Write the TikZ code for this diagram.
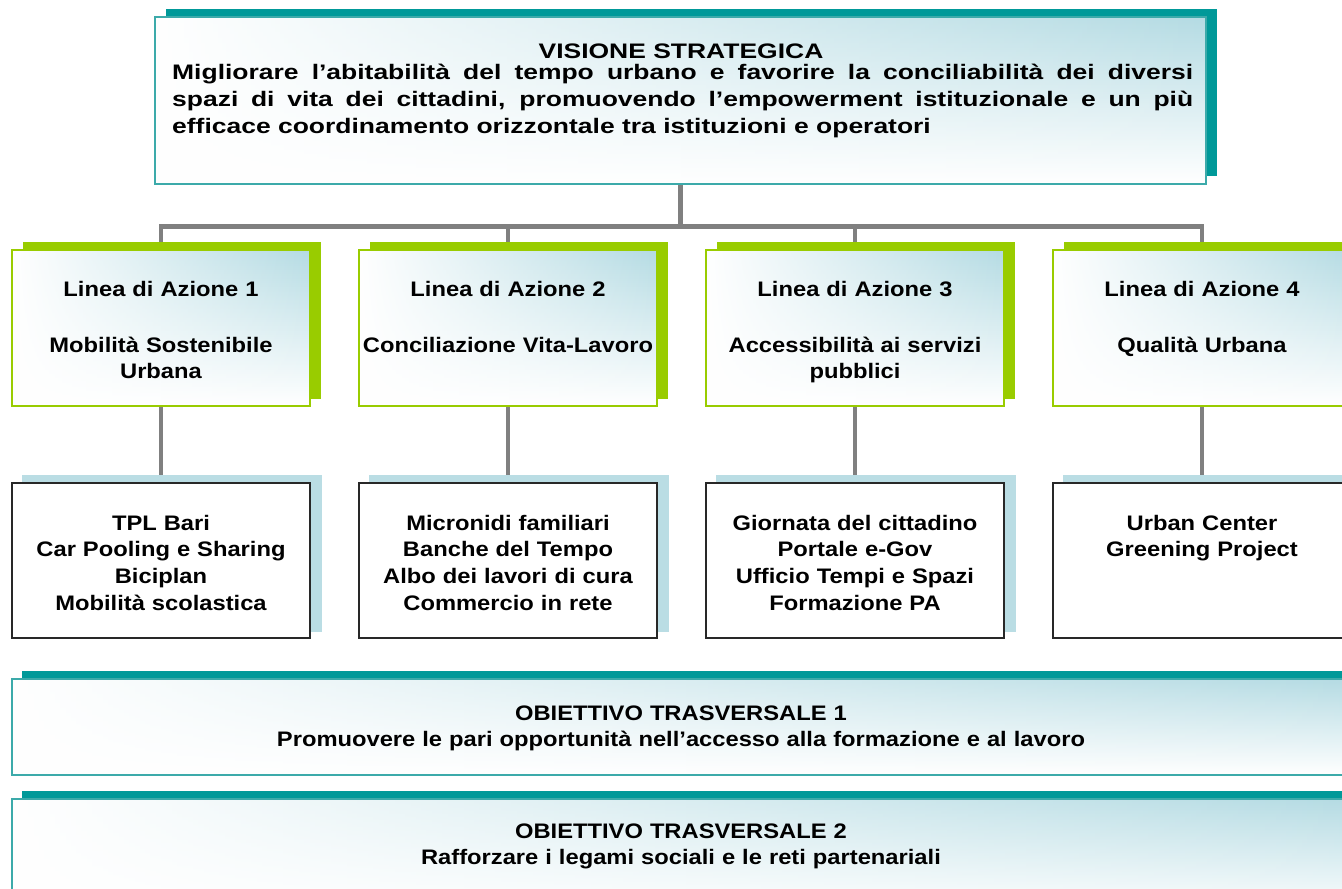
\documentclass[tikz,border=0pt]{standalone}
\usepackage{fontspec}
\setmainfont{Liberation Sans}[FakeStretch=1.13]
\newfontfamily\topfont{Liberation Sans}[FakeStretch=1.26,Ligatures=TeX]
\usetikzlibrary{fadings,calc}
\definecolor{teal1}{RGB}{0,153,153}
\definecolor{tealb}{RGB}{60,170,170}
\definecolor{green1}{RGB}{153,204,0}
\definecolor{conng}{RGB}{128,128,128}
\definecolor{lbshad}{RGB}{186,221,228}
\definecolor{lbgrad}{RGB}{180,219,227}
\definecolor{dkborder}{RGB}{40,40,40}
\tikzfading[name=fadeleft, left color=transparent!0, right color=transparent!100]
\pgfdeclarelayer{connlayer}
\pgfdeclarelayer{shadlayer}
\pgfsetlayers{connlayer,shadlayer,main}
\begin{document}
\begin{tikzpicture}[x=1pt,y=-1pt,
  fadebox/.style={rectangle, inner sep=0pt, top color=lbgrad, bottom color=white,
    postaction={fill=white, path fading=fadeleft},
    postaction={draw=#1, line width=1.6pt}},
  whitebox/.style={rectangle, inner sep=0pt, fill=white, draw=dkborder, line width=2pt},
  linbox/.style={fadebox=green1, minimum width=298pt, minimum height=156pt},
  probox/.style={whitebox, minimum width=298pt, minimum height=155pt},
  objbox/.style={fadebox=tealb, minimum width=1348pt, minimum height=#1},
  tx/.style={inner sep=0pt, text width=296pt, align=center, anchor=base,
    font=\fontsize{21}{26.8}\selectfont\bfseries},
  conn/.style={draw=conng, line width=4.8pt, line join=miter},
]
\useasboundingbox (0,0) rectangle (1342,889);

% --- top box
\node[fadebox=tealb, minimum width=1051pt, minimum height=167pt] (vis) at (680.5,100.5) {};
\node[inner sep=0pt, anchor=base, font=\topfont\fontsize{21}{27}\selectfont\bfseries] (vtitle) at (681,58) {VISIONE STRATEGICA};
\node[inner sep=0pt, anchor=base west, text width=1021pt, align=justify,
  font=\topfont\fontsize{21}{27}\selectfont\bfseries] (vbody) at (172,79)
  {Migliorare l’abitabilità del tempo urbano e favorire la conciliabilità dei diversi\linebreak
   spazi di vita dei cittadini, promuovendo l’empowerment istituzionale e un più\linebreak
   efficace coordinamento orizzontale tra istituzioni e operatori};

% --- action lines
\node[linbox] (l1) at (161,328) {};
\node[linbox] (l2) at (508,328) {};
\node[linbox] (l3) at (855,328) {};
\node[linbox] (l4) at (1202,328) {};
\node[tx] (l1a) at (161,296) {Linea di Azione 1};
\node[tx] (l2a) at (508,296) {Linea di Azione 2};
\node[tx] (l3a) at (855,296) {Linea di Azione 3};
\node[tx] (l4a) at (1202,296) {Linea di Azione 4};
\node[tx] (l1b) at (161,352) {Mobilità Sostenibile\\Urbana};
\node[tx] (l2b) at (508,352) {Conciliazione Vita-Lavoro};
\node[tx] (l3b) at (855,352) {Accessibilità ai servizi\\pubblici};
\node[tx] (l4b) at (1202,352) {Qualità Urbana};

% --- projects
\node[probox] (p1) at (161,560.5) {};
\node[probox] (p2) at (508,560.5) {};
\node[probox] (p3) at (855,560.5) {};
\node[probox] (p4) at (1202,560.5) {};
\node[tx] (p1t) at (161,530) {TPL Bari\\Car Pooling e Sharing\\Biciplan\\Mobilità scolastica};
\node[tx] (p2t) at (508,530) {Micronidi familiari\\Banche del Tempo\\Albo dei lavori di cura\\Commercio in rete};
\node[tx] (p3t) at (855,530) {Giornata del cittadino\\Portale e-Gov\\Ufficio Tempi e Spazi\\Formazione PA};
\node[tx] (p4t) at (1202,530) {Urban Center\\Greening Project};

% --- transversal objectives
\node[objbox=96pt] (o1) at (686,727) {};
\node[objbox=116pt] (o2) at (686,857) {};
\node[tx, text width=1200pt] (o1t) at (681,720) {OBIETTIVO TRASVERSALE 1\\Promuovere le pari opportunità nell’accesso alla formazione e al lavoro};
\node[tx, text width=1200pt] (o2t) at (681,838) {OBIETTIVO TRASVERSALE 2\\Rafforzare i legami sociali e le reti partenariali};

% --- shadows
\begin{pgfonlayer}{shadlayer}
  \fill[teal1] ($(vis.south west)+(11,-8)$) rectangle ($(vis.north east)+(11,-8)$);
  \foreach \n in {l1,l2,l3,l4}
    \fill[green1] ($(\n.south west)+(11,-7.5)$) rectangle ($(\n.north east)+(11,-7.5)$);
  \foreach \n in {p1,p2,p3,p4}
    \fill[lbshad] ($(\n.south west)+(11,-7.5)$) rectangle ($(\n.north east)+(11,-7.5)$);
  \fill[teal1] ($(o1.south west)+(10,-8)$) rectangle ($(o1.north east)+(10,-8)$);
  \fill[teal1] ($(o2.south west)+(10,-8)$) rectangle ($(o2.north east)+(10,-8)$);
\end{pgfonlayer}

% --- connectors
\begin{pgfonlayer}{connlayer}
  \coordinate (bar) at (681,226.5);
  \draw[conn] (vis.south) -- (vis.south |- bar);
  \draw[conn] (l1.north) -- (l1.north |- bar) -- (l4.north |- bar) -- (l4.north);
  \draw[conn] (l2.north) -- (l2.north |- bar);
  \draw[conn] (l3.north) -- (l3.north |- bar);
  \foreach \i in {1,2,3,4}
    \draw[conn] (l\i.south) -- (p\i.north);
\end{pgfonlayer}
\end{tikzpicture}
\end{document}
